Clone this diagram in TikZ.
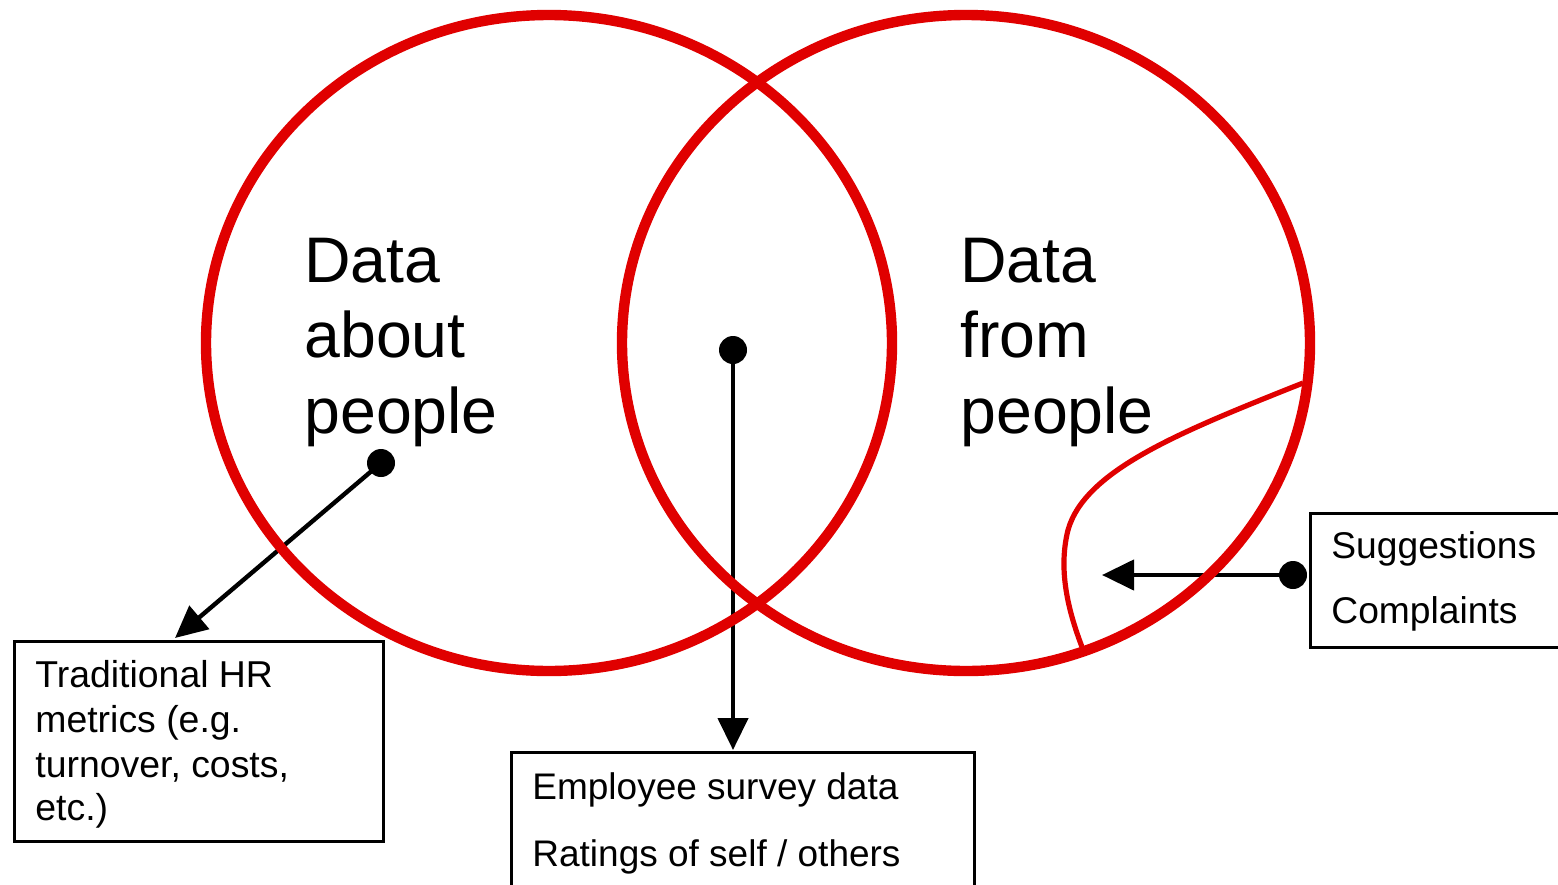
\documentclass[tikz,border=0pt]{standalone}
\usepackage{fontspec}
\setmainfont{Liberation Sans}
\usetikzlibrary{arrows.meta}
\definecolor{hrred}{RGB}{224,0,0}
\begin{document}
\begin{tikzpicture}[x=0.5pt,y=-0.5pt,
  ring/.style={draw=hrred,line width=5.2pt},
  lobe/.style={draw=hrred,line width=2.6pt},
  dot/.style={circle,fill=black,inner sep=0pt,minimum size=14pt},
  arr/.style={draw=black,line width=2.2pt,-{Triangle[length=16pt,width=15pt]}},
  box/.style={draw=black,line width=1.6pt,anchor=north west,inner sep=0pt},
  big/.style={anchor=base west,inner sep=0pt,font=\fontsize{32.2}{38}\selectfont},
  small/.style={anchor=base west,inner sep=0pt,font=\fontsize{18.7}{22}\selectfont},
  med/.style={anchor=base west,inner sep=0pt,font=\fontsize{18.5}{24}\selectfont},
  rsm/.style={anchor=base west,inner sep=0pt,font=\fontsize{18.6}{23}\selectfont}]
\useasboundingbox (0,0) rectangle (1558,884);

% boxes
\node[box,minimum width=184.5pt,minimum height=100pt] (b1) at (13,640) {};
\node[box,minimum width=231.5pt,minimum height=90pt] (b2) at (510,751) {};
\node[box,minimum width=150pt,minimum height=67pt] (b3) at (1309,512) {};

% dots
\node[dot] (d1) at (381,463) {};
\node[dot] (d2) at (733,350) {};
\node[dot] (d3) at (1293,575) {};

% arrow targets
\coordinate (e1) at (175,638);
\coordinate (e2) at (733,750);
\coordinate (e3) at (1102,575);

\draw[arr] (d1.center) -- (e1);
\draw[arr] (d2.center) -- (e2);
\draw[arr] (d3.center) -- (e3);

% circles
\draw[ring] (549,343) ellipse [x radius=343, y radius=328];
\draw[ring] (966,343) ellipse [x radius=344, y radius=328];
\draw[lobe] (1303,383) .. controls (1180,432) and (1085,470) .. (1068,530)
  .. controls (1058,570) and (1068,610) .. (1082,647);

% big labels
\node[big] (l1) at (304,282) {Data};
\node[big] (l2) at (304,357) {about};
\node[big] (l3) at (304,433) {people};
\node[big] (r1) at (960,282) {Data};
\node[big] (r2) at (960,357) {from};
\node[big] (r3) at (960,433) {people};

% box texts
\node[small] (t1) at (35,687) {Traditional HR};
\node[small] (t2) at (35,732) {metrics (e.g.};
\node[small] (t3) at (35,777) {turnover, costs,};
\node[small] (t4) at (35,820) {etc.)};
\node[med] (m1) at (532,799) {Employee survey data};
\node[med] (m2) at (532,866) {Ratings of self / others};
\node[rsm] (s1) at (1331,558) {Suggestions};
\node[rsm] (s2) at (1331,623) {Complaints};
\end{tikzpicture}
\end{document}
